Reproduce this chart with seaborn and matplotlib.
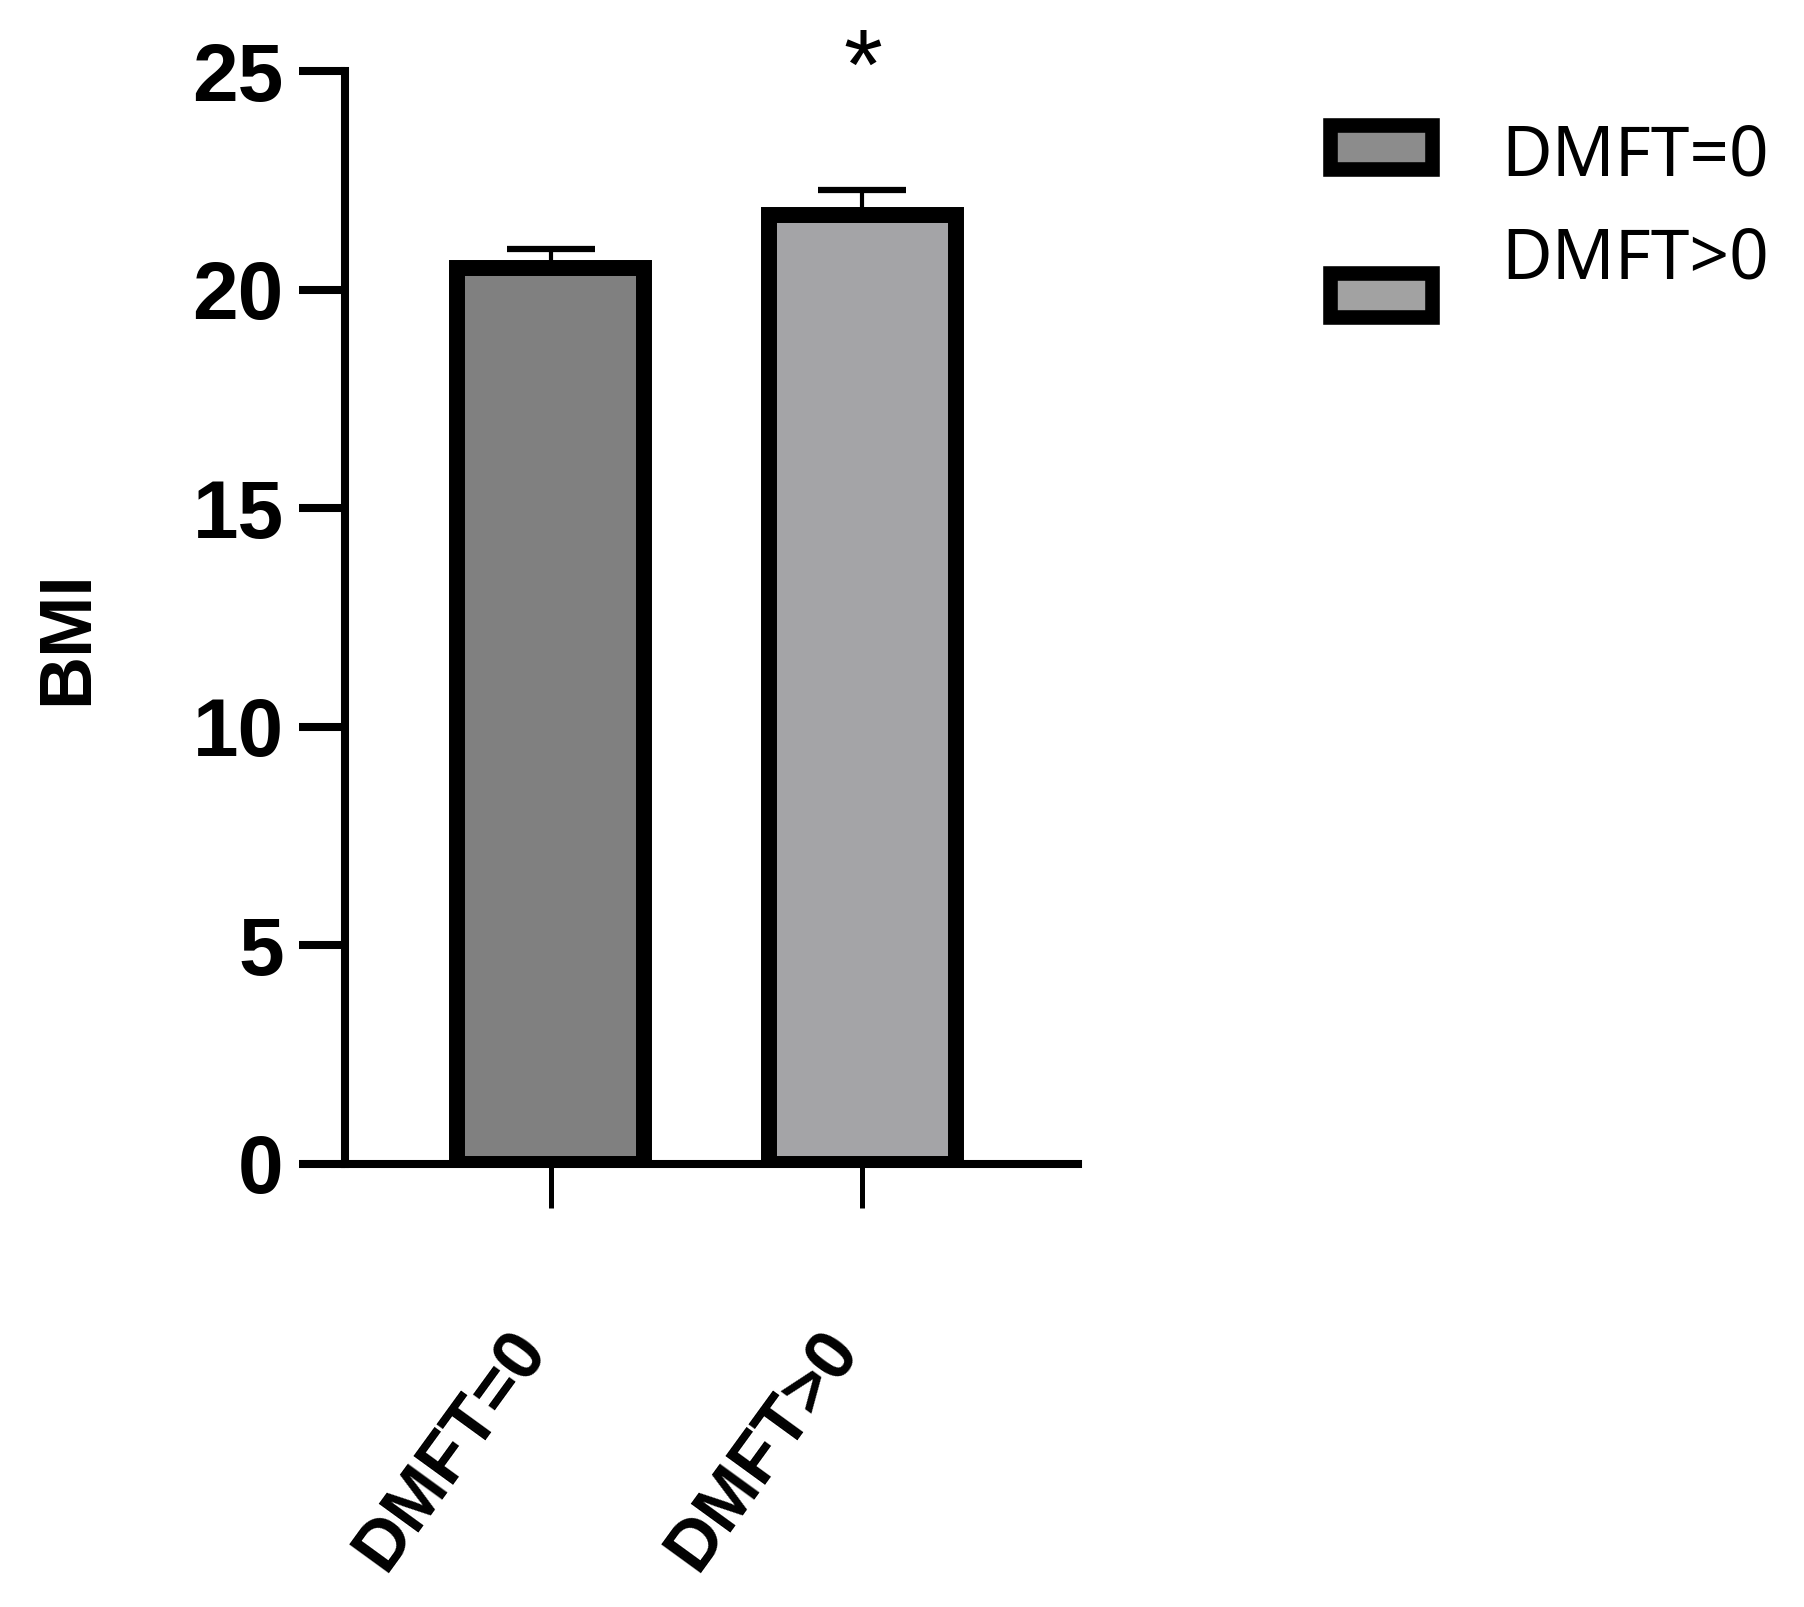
import matplotlib

matplotlib.use("Agg")

import matplotlib.pyplot as plt
import matplotlib.transforms as mtransforms
import numpy as np
import pandas as pd
import seaborn as sns
from matplotlib.patches import Patch

groups = ["DMFT=0", "DMFT>0"]
bmi_mean = [20.5, 21.7]
bmi_sem = [0.44, 0.57]
bar_colors = ["#808080", "#a4a3a8"]
legend_colors = ["#8c8c8c", "#a2a2a2"]
y_ticks = [0, 5, 10, 15, 20, 25]

df = pd.DataFrame({"group": groups, "bmi": bmi_mean})

sns.set_style("ticks")
plt.rcParams["font.family"] = ["Liberation Sans", "DejaVu Sans"]
plt.rcParams.update({
    "text.color": "black", "axes.labelcolor": "black",
    "xtick.color": "black", "ytick.color": "black", "axes.edgecolor": "black",
})

fig, ax = plt.subplots(figsize=(18.04, 16.07), dpi=100)
fig.subplots_adjust(left=0.1912, right=0.5976, bottom=0.2757, top=0.9558)

sns.barplot(
    data=df, x="group", y="bmi", hue="group", palette=dict(zip(groups, bar_colors)),
    width=0.6, edgecolor="black", linewidth=11.5, errorbar=None, legend=False, ax=ax,
)
for p in ax.patches:
    p.set_joinstyle("miter")
    p.set_zorder(2)

xpos = np.arange(len(groups))
ax.errorbar(
    xpos, bmi_mean, yerr=[np.zeros(len(groups)), bmi_sem], fmt="none", ecolor="black",
    elinewidth=3, capsize=32, capthick=4.5, zorder=1,
)

ax.set_xlim(-0.661, 1.692)
ax.set_ylim(0, 25)
ax.set_yticks(y_ticks)
ax.set_yticklabels([str(t) for t in y_ticks], fontsize=59, fontweight="bold")
ax.set_xticks(xpos)
ax.set_xticklabels(groups, fontsize=51, fontweight="bold", rotation=54,
                   ha="right", va="center", rotation_mode="anchor")
ax.tick_params(axis="y", length=33, width=5.8, pad=11)
ax.tick_params(axis="x", length=32, width=3.6, pad=94)

# nudge the slanted labels a little left of their ticks, as in the original
shift = mtransforms.ScaledTranslation(-0.17, 0, fig.dpi_scale_trans)
for lbl in ax.get_xticklabels():
    lbl.set_transform(lbl.get_transform() + shift)

ax.set_xlabel("")
ax.set_ylabel("BMI", fontsize=53, fontweight="bold", va="center")
ax.yaxis.set_label_coords(-0.3786, 0.4817)

sns.despine(ax=ax)
for side in ["left", "bottom"]:
    ax.spines[side].set_linewidth(5.8)

ax.text(1.0, 24.95, "*", ha="center", va="center", fontsize=72, clip_on=False)

handles = [Patch(facecolor=c, edgecolor="black", linewidth=10.5) for c in legend_colors]
leg = fig.legend(
    handles, groups, loc="upper left", bbox_to_anchor=(0.7182, 0.948),
    frameon=False, prop={"family": "Noto Sans", "size": 50},
    handlelength=1.46, handleheight=0.6, handletextpad=1.0, labelspacing=1.13, borderpad=0,
)
for h in leg.legend_handles:
    h.set_joinstyle("miter")
leg.get_texts()[0].set_y(-4)
leg.get_texts()[1].set_y(41)

fig.savefig("out.png", dpi=100, facecolor="white")
